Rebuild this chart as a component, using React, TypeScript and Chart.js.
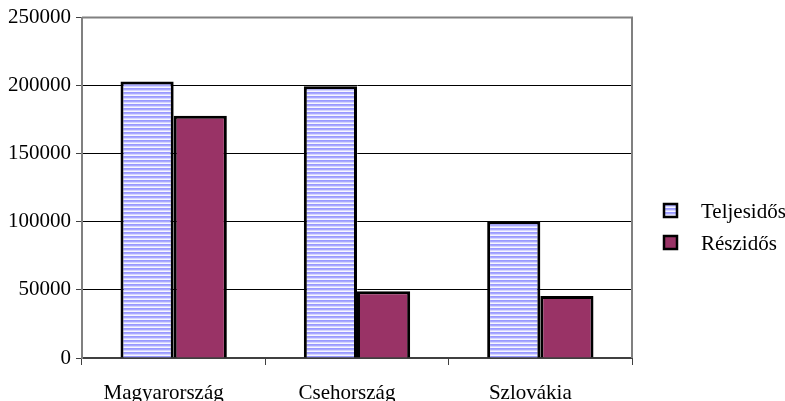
import React, { useEffect, useRef } from "react";
import { Chart, registerables } from "chart.js";

Chart.register(...registerables);

const categories = ["Magyarország", "Csehország", "Szlovákia"];
const seriesNames = ["Teljesidős", "Részidős"];
const teljesidos = [203000, 199500, 100500];
const reszidos = [178000, 49000, 45500];
const yTicks = [0, 50000, 100000, 150000, 200000, 250000];

const FONT = '"Liberation Serif", "Times New Roman", serif';
const RESZ_COLOR = "#993366";

function makeStripe(ctx: CanvasRenderingContext2D): CanvasPattern | string {
  const c = document.createElement("canvas");
  c.width = 4;
  c.height = 4;
  const p = c.getContext("2d");
  if (!p) return "#9999ff";
  p.fillStyle = "#9999ff";
  p.fillRect(0, 0, 4, 1);
  p.fillStyle = "#a8a8ff";
  p.fillRect(0, 1, 4, 1);
  p.fillStyle = "#d4d4ff";
  p.fillRect(0, 2, 4, 1);
  p.fillStyle = "#f6f6ff";
  p.fillRect(0, 3, 4, 1);
  return ctx.createPattern(c, "repeat") || "#9999ff";
}

export default function App() {
  const ref = useRef<HTMLCanvasElement | null>(null);

  useEffect(() => {
    const canvas = ref.current;
    if (!canvas) return;
    const ctx = canvas.getContext("2d");
    if (!ctx) return;
    const stripe = makeStripe(ctx);

    const framePlugin = {
      id: "frame",
      afterDraw(chart: any) {
        const { ctx: c, chartArea: a } = chart;
        c.save();
        c.strokeStyle = "#808080";
        c.lineWidth = 2;
        c.beginPath();
        c.moveTo(a.left, a.top);
        c.lineTo(a.right, a.top);
        c.lineTo(a.right, a.bottom);
        c.stroke();
        c.restore();

        // legend
        const fills = [stripe, RESZ_COLOR];
        const ys = [211, 243];
        c.save();
        c.font = `21px ${FONT}`;
        c.textBaseline = "middle";
        c.textAlign = "left";
        for (let i = 0; i < seriesNames.length; i++) {
          const y = ys[i];
          c.fillStyle = fills[i] as any;
          c.fillRect(664, y - 7, 13, 13);
          c.strokeStyle = "#000";
          c.lineWidth = 2.5;
          c.strokeRect(664, y - 7, 13, 13);
          c.fillStyle = "#000";
          c.fillText(seriesNames[i], 701, y + 1);
        }
        c.restore();
      },
    };

    const chart = new Chart(ctx, {
      type: "bar",
      data: {
        labels: categories,
        datasets: [
          {
            label: seriesNames[0],
            data: teljesidos,
            backgroundColor: stripe as any,
            borderColor: "#000",
            borderWidth: 3,
            categoryPercentage: 0.58,
            barPercentage: 1.0,
          },
          {
            label: seriesNames[1],
            data: reszidos,
            backgroundColor: RESZ_COLOR,
            borderColor: "#000",
            borderWidth: 3,
            categoryPercentage: 0.58,
            barPercentage: 1.0,
          },
        ],
      },
      options: {
        responsive: false,
        animation: false,
        devicePixelRatio: 1,
        layout: { padding: { left: 0, right: 153, top: 17, bottom: 0 } },
        plugins: {
          legend: { display: false },
          tooltip: { enabled: false },
        },
        scales: {
          x: {
            offset: true,
            grid: {
              offset: true,
              drawOnChartArea: false,
              drawTicks: true,
              tickLength: 7,
              color: "#404040",
              lineWidth: 1,
            },
            border: { display: true, color: "#404040", width: 2 },
            ticks: {
              color: "#000",
              font: { family: FONT, size: 21 },
              padding: 16,
              labelOffset: -10,
              maxRotation: 0,
            },
            afterFit(scale: any) {
              scale.height = 43;
            },
          },
          y: {
            min: 0,
            max: 250000,
            afterBuildTicks(scale: any) {
              scale.ticks = yTicks.map((v) => ({ value: v }));
            },
            grid: {
              color: "#000",
              lineWidth: 1,
              tickLength: 6,
              tickColor: "#404040",
            },
            border: { display: true, color: "#808080", width: 2 },
            ticks: {
              color: "#000",
              font: { family: FONT, size: 21 },
              padding: 5,
              callback: (v: any) => String(v),
            },
            afterFit(scale: any) {
              scale.width = 82;
            },
          },
        },
      },
      plugins: [framePlugin],
    });

    return () => chart.destroy();
  }, []);

  return (
    <div style={{ position: "absolute", left: 0, top: 0, width: 785, height: 401, background: "#fff" }}>
      <canvas ref={ref} width={785} height={401} style={{ width: 785, height: 401, display: "block" }} />
    </div>
  );
}
